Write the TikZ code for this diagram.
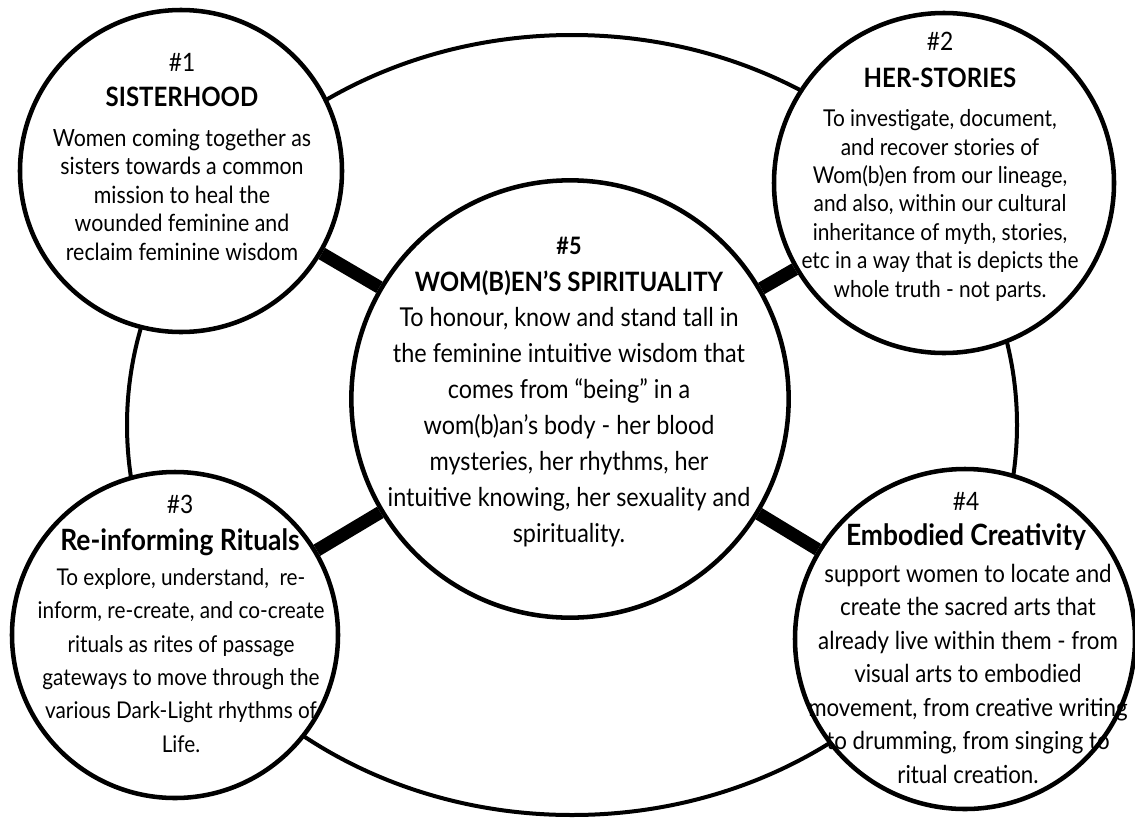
\documentclass[tikz,border=0pt]{standalone}
\usepackage{fontspec}
\setmainfont{Lato}[FakeStretch=0.9]
\usetikzlibrary{positioning}

\begin{document}
\begin{tikzpicture}[
	x=0.75pt, y=-0.75pt,
	ring/.style={circle, draw, line width=3.4pt, fill=white, inner sep=0pt},
	bar/.style={line width=9.75pt},
	outer/.style={line width=3pt},
	num/.style={anchor=base, font=\fontsize{19}{22}\selectfont},
	ttl/.style={anchor=base, font=\fontsize{20}{24}\selectfont\bfseries},
	ttl-mixed/.style={ttl, font=\fontsize{22}{26}\selectfont\bfseries},
	body/.style={anchor=base, align=center, inner sep=0pt, font=\fontsize{17.8}{21.3}\selectfont},
	wide-body/.style={body, font=\fontsize{17.8}{25.1}\selectfont},
	bigbody/.style={body, font=\fontsize{19.5}{26.9}\selectfont}
	]
	\useasboundingbox (0,0) rectangle (1135,818);
	
	% Outer ring
	\draw[outer] (572,425) ellipse [x radius=445, y radius=390];
	
	% Circles
	\node[ring, minimum size=328pt] (spirit) at (570,399) {};
	\node[ring, minimum size=241.5pt] (sister) at (181,171) {};
	\node[ring, minimum size=255pt] (herstory) at (944,183) {};
	\node[ring, minimum size=244.5pt] (ritual) at (175,635) {};
	\node[ring, minimum size=255pt] (creative) at (965,639) {};
	
	% Bars
	\draw[bar] (sister) -- (spirit);
	\draw[bar] (herstory) -- (spirit);
	\draw[bar] (ritual) -- (spirit);
	\draw[bar] (creative) -- (spirit);
	
	% Centre: Spirituality
	\node[num, font=\fontsize{18}{22}\selectfont\bfseries] (n5) at (569,254) {\#5};
	\node[ttl] (h5) at (569,291) {WOM(B)EN’S SPIRITUALITY};
	\node[bigbody] (b5) at (569,542) {To honour, know and stand tall in\\
		the feminine intuitive wisdom that\\
		comes from “being” in a\\
		wom(b)an’s body - her blood\\
		mysteries, her rhythms, her\\
		intuitive knowing, her sexuality and\\
		spirituality.};
	
	% Circle 1: Sisterhood
	\node[num] (n1) at (182,71) {\#1};
	\node[ttl] (h1) at (182,106) {SISTERHOOD};
	\node[body] (b1) at (182,260) {Women coming together as\\
		sisters towards a common\\
		mission to heal the\\
		wounded feminine and\\
		reclaim feminine wisdom};
	
	% Circle 2: Her-stories
	\node[num] (n2) at (940,50) {\#2};
	\node[ttl] (h2) at (940,87) {HER-STORIES};
	\node[body, font=\fontsize{17.4}{21.3}\selectfont] (b2) at (940,297) {To investigate, document,\\
		and recover stories of\\
		Wom(b)en from our lineage,\\
		and also, within our cultural\\
		inheritance of myth, stories,\\
		etc in a way that is depicts the\\
		whole truth - not parts.};
	
	% Circle 3: Rituals
	\node[num] (n3) at (180,513) {\#3};
	\node[ttl-mixed] (h3) at (180,550) {Re-informing Rituals};
	\node[wide-body, font=\fontsize{17.3}{25}\selectfont] (b3) at (181,752) {To explore, understand,\ \ re-\\
		inform, re-create, and co-create\\
		rituals as rites of passage\\
		gateways to move through the\\
		various Dark-Light rhythms of\\
		Life.};
	
	% Circle 4: Creativity
	\node[num] (n4) at (966,510) {\#4};
	\node[ttl-mixed] (h4) at (966,545) {Embodied Creativity};
	\node[wide-body, font=\fontsize{18.6}{25.1}\selectfont] (b4) at (968,783) {support women to locate and\\
		create the sacred arts that\\
		already live within them - from\\
		visual arts to embodied\\
		movement, from creative writing\\
		to drumming, from singing to\\
		ritual creation.};
	
\end{tikzpicture}
\end{document}
